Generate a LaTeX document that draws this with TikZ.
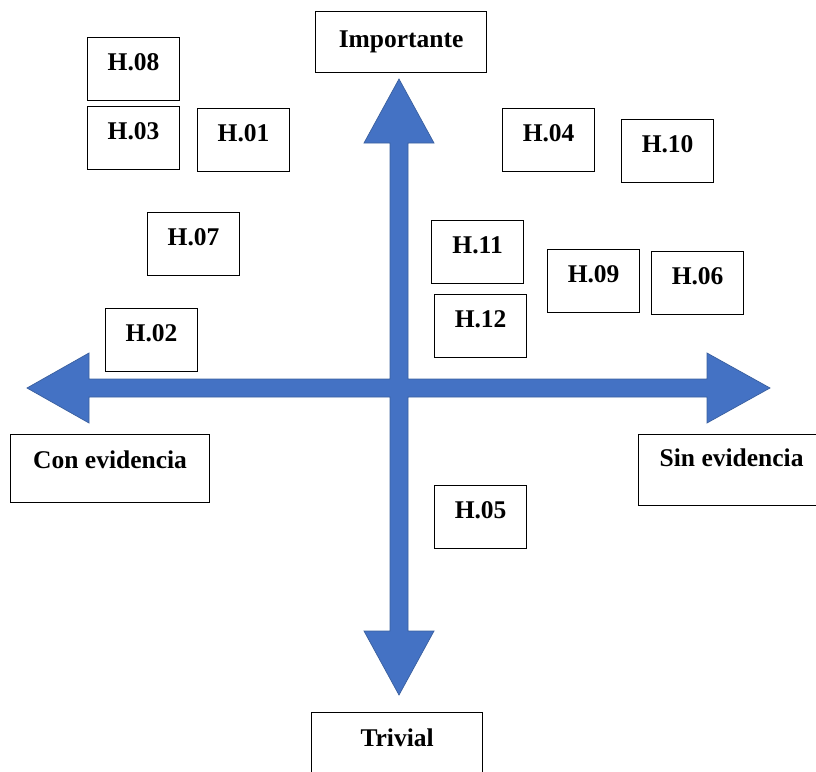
\documentclass[tikz,border=0pt]{standalone}
\usepackage{fontspec}
\setmainfont{Liberation Serif}
\definecolor{axisfill}{HTML}{4472C4}
\definecolor{axisline}{HTML}{3A5F9E}
\begin{document}
\begin{tikzpicture}[x=1pt,y=-1pt,
  hbox/.style={draw=black, line width=1.2pt, fill=white, inner sep=0pt,
    anchor=north west, minimum width=92pt,
    font=\fontsize{25.5}{30}\selectfont\bfseries,
    text height=33pt, text depth=30pt},
  pole/.style={hbox, text height=34pt, text depth=34pt}]
\useasboundingbox (0,0) rectangle (816,771);

% axis cross with four arrow heads
\draw[fill=axisfill, draw=axisline, line width=0.7pt, line join=miter]
  (399,79) -- (434,143) -- (408,143) -- (408,379) -- (707,379) -- (707,353)
  -- (770,388) -- (707,423) -- (707,397) -- (408,397) -- (408,631)
  -- (434,631) -- (399,695) -- (364,631) -- (390,631) -- (390,397)
  -- (89,397) -- (89,423) -- (27,388) -- (89,353) -- (89,379)
  -- (390,379) -- (390,143) -- (364,143) -- cycle;

% axis labels
\node[pole, minimum width=171pt, text height=36pt, text depth=25pt] (imp) at (315,11) {Importante};
\node[pole, minimum width=199pt] (con) at (10,434) {Con evidencia};
\node[pole, minimum width=186pt, text height=32pt, text depth=39pt] (sin) at (638,434) {Sin evidencia};
\node[pole, minimum width=171pt] (triv) at (311,712) {Trivial};

% hypotheses
\node[hbox] (h08) at (87,37)   {H.08};
\node[hbox] (h03) at (87,106)  {H.03};
\node[hbox] (h01) at (197,108) {H.01};
\node[hbox] (h07) at (147,212) {H.07};
\node[hbox] (h02) at (105,308) {H.02};
\node[hbox] (h04) at (502,108) {H.04};
\node[hbox] (h10) at (621,119) {H.10};
\node[hbox] (h11) at (431,220) {H.11};
\node[hbox] (h12) at (434,294) {H.12};
\node[hbox] (h09) at (547,249) {H.09};
\node[hbox] (h06) at (651,251) {H.06};
\node[hbox] (h05) at (434,485) {H.05};
\end{tikzpicture}
\end{document}
